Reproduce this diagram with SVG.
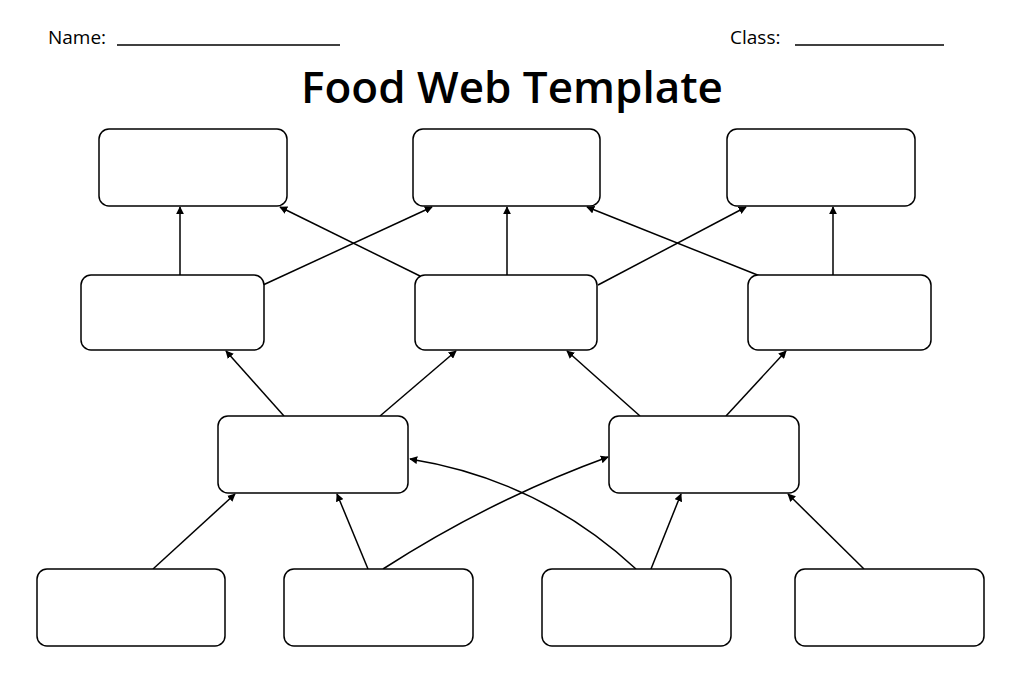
<svg xmlns="http://www.w3.org/2000/svg" width="1024" height="683" viewBox="0 0 1024 683">
<style>
.b{fill:#fff;stroke:#000;stroke-width:1.5}
.c{fill:none;stroke:#000;stroke-width:1.5;marker-end:url(#a)}
.t{font-family:"Open Sans",sans-serif;fill:#000}
</style>
<defs><marker id="a" viewBox="0 0 10 10" refX="9" refY="5" markerWidth="8" markerHeight="8" markerUnits="userSpaceOnUse" orient="auto"><path d="M0,0L10,5L0,10z"/></marker></defs>
<rect width="1024" height="683" fill="#fff"/>
<text class="t" x="48" y="44" font-size="19">Name:</text>
<line x1="117" y1="45" x2="340" y2="45" stroke="#000" stroke-width="1.5"/>
<text class="t" x="730" y="44" font-size="19">Class:</text>
<line x1="795" y1="45" x2="944" y2="45" stroke="#000" stroke-width="1.5"/>
<text class="t" x="512" y="103" font-size="44" font-weight="600" text-anchor="middle">Food Web Template</text>
<g id="connectors">
<path class="c" d="M180,275V207"/>
<path class="c" d="M263,285L432,207"/>
<path class="c" d="M420,276L280,207"/>
<path class="c" d="M507,275V207"/>
<path class="c" d="M598,285L746,207"/>
<path class="c" d="M760,276L587,207"/>
<path class="c" d="M833,275V207"/>
<path class="c" d="M284,416L226,351"/>
<path class="c" d="M380,416L456,351"/>
<path class="c" d="M640,416L567,351"/>
<path class="c" d="M726,416L786,351"/>
<path class="c" d="M153,569L235,494"/>
<path class="c" d="M368,569L337,494"/>
<path class="c" d="M383,569Q490,500 608,457"/>
<path class="c" d="M636,569Q540,480 410,459"/>
<path class="c" d="M651,569L681,494"/>
<path class="c" d="M864,569L788,494"/>
</g>
<g id="n1"><rect class="b" x="99" y="129" width="188" height="77" rx="10"/></g>
<g id="n2"><rect class="b" x="413" y="129" width="187" height="77" rx="10"/></g>
<g id="n3"><rect class="b" x="727" y="129" width="188" height="77" rx="10"/></g>
<g id="n4"><rect class="b" x="81" y="275" width="183" height="75" rx="10"/></g>
<g id="n5"><rect class="b" x="415" y="275" width="182" height="75" rx="10"/></g>
<g id="n6"><rect class="b" x="748" y="275" width="183" height="75" rx="10"/></g>
<g id="n7"><rect class="b" x="218" y="416" width="190" height="77" rx="10"/></g>
<g id="n8"><rect class="b" x="609" y="416" width="190" height="77" rx="10"/></g>
<g id="n9"><rect class="b" x="37" y="569" width="188" height="77" rx="10"/></g>
<g id="n10"><rect class="b" x="284" y="569" width="189" height="77" rx="10"/></g>
<g id="n11"><rect class="b" x="542" y="569" width="189" height="77" rx="10"/></g>
<g id="n12"><rect class="b" x="795" y="569" width="189" height="77" rx="10"/></g>
</svg>
